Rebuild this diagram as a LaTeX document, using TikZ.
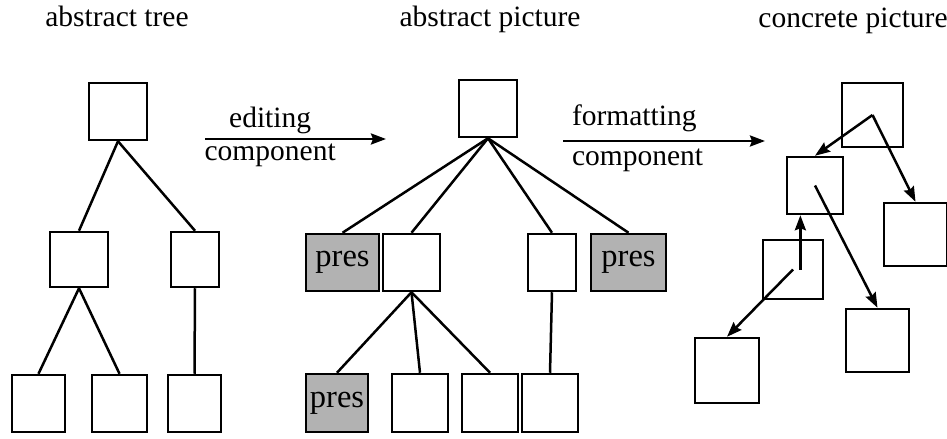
\documentclass[tikz,border=0pt]{standalone}
\usepackage{fontspec}
\setmainfont{Liberation Serif}
\usetikzlibrary{arrows.meta, calc}

\begin{document}
\begin{tikzpicture}[
    x=0.4pt, y=-0.4pt,
    font=\fontsize{11.8}{14}\selectfont,
    box/.style={draw, line width=1pt, inner sep=0pt, minimum width=22.8pt, minimum height=22.8pt},
    pres/.style={box, fill=black!30, font=\fontsize{13}{15}\selectfont},
    edge/.style={line width=1pt},
    link/.style={line width=1pt, -{Stealth[length=6pt, width=4.4pt, inset=0.8pt]}},
    lbl/.style={inner sep=1.5pt}
]
    \useasboundingbox (0,0) rectangle (947,439);

    \node[anchor=base] (ttree) at (117,27) {abstract tree};
    \node[anchor=base] (tabs) at (490,27) {abstract picture};
    \node[anchor=base] (tcon) at (853,28) {concrete picture};

    % abstract tree
    \node[box, minimum width=23.2pt] (t) at (118,111.5) {};
    \node[box, minimum width=23.2pt, minimum height=22pt] (tl) at (79,259.5) {};
    \node[box, minimum width=19.2pt, minimum height=22pt] (tr) at (195,259.5) {};
    \node[box, minimum width=21.2pt] (tll) at (38.5,403.5) {};
    \node[box, minimum width=22pt] (tlr) at (119.5,403.5) {};
    \node[box, minimum width=21.2pt] (trl) at (194.5,403.5) {};

    \draw[edge] (t.south) -- (tl.north);
    \draw[edge] (t.south) -- (tr.north);
    \draw[edge] (tl.south) -- (tll.north);
    \draw[edge] (tl.south) -- (tlr.north);
    \draw[edge] (tr.south) -- (trl.north);

    \coordinate (e1) at (205,139);
    \coordinate (e2) at (386,139);
    \draw[link] (e1) -- node[pos=.36, above, lbl] (edit) {editing}
        node[pos=.36, below, lbl] (editc) {component} (e2);

    % abstract picture
    \node[box, minimum width=23.2pt] (p) at (488,108.5) {};
    \node[pres, minimum width=29.2pt] (pp1) at (342.5,262.5) {pres};
    \node[box] (pb) at (411.5,262.5) {};
    \node[box, minimum width=19.2pt] (pn) at (552,262.5) {};
    \node[pres, minimum width=30pt] (pp2) at (628.5,262.5) {pres};
    \node[pres, minimum width=24.8pt, minimum height=23.2pt] (pp3) at (337,403) {pres};
    \node[box, minimum width=22.4pt, minimum height=23.2pt] (pc1) at (420,403) {};
    \node[box, minimum width=22.4pt, minimum height=23.2pt] (pc2) at (490,403) {};
    \node[box, minimum width=22.4pt, minimum height=23.2pt] (pc3) at (550,403) {};

    \draw[edge] (p.south) -- (pp1.north);
    \draw[edge] (p.south) -- (pb.north);
    \draw[edge] (p.south) -- (pn.north);
    \draw[edge] (p.south) -- (pp2.north);
    \draw[edge] (pb.south) -- (pp3.north);
    \draw[edge] (pb.south) -- (pc1.north);
    \draw[edge] (pb.south) -- (pc2.north);
    \draw[edge] (pn.south) -- (pc3.north);

    \coordinate (f1) at (563,141);
    \coordinate (f2) at (765,141);
    \draw[link] (f1) -- node[pos=.02, anchor=south west, lbl, yshift=1.5pt] (form) {formatting}
        node[pos=.02, anchor=north west, lbl, yshift=-1pt] (formc) {component} (f2);

    % concrete picture
    \node[box, minimum width=24.4pt, minimum height=25.6pt] (ca) at (872.5,115) {};
    \node[box, minimum width=22.4pt, minimum height=22.8pt] (cb) at (815,185.5) {};
    \node[box, minimum width=25.2pt, minimum height=25.2pt] (cc) at (915.5,234.5) {};
    \node[box, minimum width=24pt, minimum height=23.6pt] (cd) at (793,269.5) {};
    \node[box, minimum width=25.2pt, minimum height=25.2pt] (ce) at (877.5,340.5) {};
    \node[box, minimum width=25.6pt, minimum height=26pt] (cf) at (727,370.5) {};

    \coordinate (cbs) at ($(cb.south west)!0.25!(cb.south east)$);
    \draw[link] (ca.center) -- (cb.north);
    \draw[link] (ca.center) -- (cc.north);
    \draw[link] (cb.center) -- (ce.north);
    \draw[link] (cd.center -| cbs) -- (cbs);
    \draw[link] (cd.center) -- (cf.north);
\end{tikzpicture}
\end{document}
